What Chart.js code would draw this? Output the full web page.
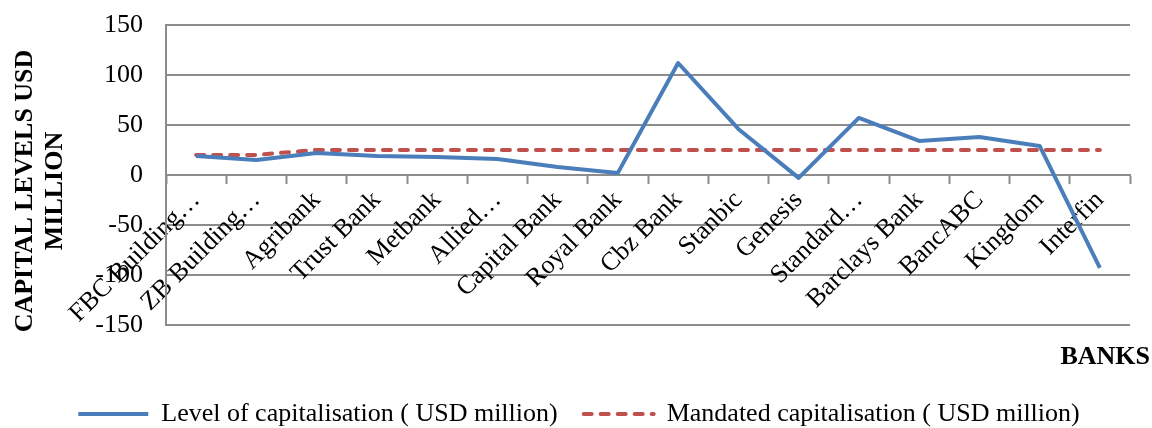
<!DOCTYPE html>
<html>
<head>
<meta charset="utf-8">
<script src="https://cdn.jsdelivr.net/npm/chart.js@4/dist/chart.umd.min.js"></script>
<style>
    html, body { margin: 0; padding: 0; background: #fff; }
    #wrap { width: 1152px; height: 428px; }
</style>
</head>
<body>
<div id="wrap"><canvas id="capitalChart"></canvas></div>
<script>
const banks = [
    'FBC Building…', 'ZB Building…', 'Agribank', 'Trust Bank', 'Metbank', 'Allied…',
    'Capital Bank', 'Royal Bank', 'Cbz Bank', 'Stanbic', 'Genesis', 'Standard…',
    'Barclays Bank', 'BancABC', 'Kingdom', 'Interfin'
];
const capitalLevels = [19, 15, 22, 19, 18, 16, 8, 2, 112, 46, -3, 57, 34, 38, 29, -93];
const mandatedLevels = [20, 20, 25, 25, 25, 25, 25, 25, 25, 25, 25, 25, 25, 25, 25, 25];
const yMin = -150;
const yMax = 150;
const yStep = 50;
const yTitleLines = ['CAPITAL LEVELS USD', 'MILLION'];
const xTitle = 'BANKS';

const serif = '"Liberation Serif", "Times New Roman", serif';
const gridGray = '#8c8c8c';

Chart.defaults.font.family = serif;
Chart.defaults.color = '#000';

// y title drawn by hand so it can sit a bit below the chart area centre like the original
const yTitlePlugin = {
    id: 'yTitle',
    afterDraw(chart) {
        const ctx = chart.ctx;
        ctx.save();
        ctx.translate(40, 191);
        ctx.rotate(-Math.PI / 2);
        ctx.font = 'bold 26px ' + serif;
        ctx.fillStyle = '#000';
        ctx.textAlign = 'center';
        ctx.textBaseline = 'middle';
        ctx.fillText(yTitleLines[0], 0, -15);
        ctx.fillText(yTitleLines[1], 0, 15);
        ctx.restore();
    }
};

// legend lines should look like the dataset lines (width + dash), not the points
function lineLegendLabels(chart) {
    return Chart.defaults.plugins.legend.labels.generateLabels(chart).map(item => {
        const ds = chart.data.datasets[item.datasetIndex];
        item.lineWidth = ds.borderWidth;
        item.lineDash = ds.borderDash || [];
        item.lineCap = ds.borderCapStyle || 'butt';
        item.strokeStyle = ds.borderColor;
        return item;
    });
}

new Chart(document.getElementById('capitalChart'), {
    type: 'line',
    data: {
        labels: banks,
        datasets: [{
            label: 'Level of capitalisation ( USD million)',
            data: capitalLevels,
            borderColor: '#4A7EBB',
            backgroundColor: '#4A7EBB',
            borderWidth: 4,
            borderJoinStyle: 'round',
            pointRadius: 0,
            tension: 0
        }, {
            label: 'Mandated capitalisation ( USD million)',
            data: mandatedLevels,
            borderColor: '#C0504D',
            backgroundColor: '#C0504D',
            borderWidth: 4,
            borderDash: [8, 9],
            borderCapStyle: 'round',
            pointRadius: 0,
            tension: 0
        }]
    },
    options: {
        responsive: true,
        maintainAspectRatio: false,
        animation: false,
        layout: {
            padding: { top: 25, left: 8, right: 2, bottom: -9 }
        },
        scales: {
            x: {
                position: { y: 0 },
                offset: true,
                grid: {
                    display: true,
                    drawOnChartArea: false,
                    drawTicks: true,
                    tickLength: 8,
                    tickWidth: 2,
                    color: gridGray,
                    offset: true
                },
                border: { display: true, color: gridGray, width: 2 },
                ticks: {
                    autoSkip: false,
                    minRotation: 45,
                    maxRotation: 45,
                    padding: 2,
                    color: '#000',
                    font: { size: 26 }
                }
            },
            y: {
                min: yMin,
                max: yMax,
                afterFit: s => { s.width = 158; },
                // invisible tick marks keep the labels away from the axis
                grid: { color: gridGray, lineWidth: 2, drawTicks: true, tickLength: 23, tickColor: 'rgba(0,0,0,0)' },
                border: { color: gridGray, width: 2 },
                ticks: {
                    stepSize: yStep,
                    padding: 0,
                    color: '#000',
                    font: { size: 26 }
                }
            },
            yRight: {
                position: 'right',
                display: true,
                afterFit: s => { s.width = 20; },
                ticks: { display: false },
                grid: { display: false },
                border: { display: false }
            }
        },
        plugins: {
            subtitle: {
                display: true,
                text: xTitle,
                position: 'bottom',
                align: 'end',
                weight: 500,
                color: '#000',
                font: { size: 26, weight: 'bold', lineHeight: 1.2 },
                padding: { top: 17, bottom: 2 }
            },
            legend: {
                position: 'bottom',
                labels: {
                    usePointStyle: true,
                    pointStyle: 'line',
                    pointStyleWidth: 70,
                    padding: 26,
                    color: '#000',
                    font: { size: 26 },
                    generateLabels: lineLegendLabels
                }
            },
            tooltip: { enabled: false }
        }
    },
    plugins: [yTitlePlugin]
});
</script>
</body>
</html>
